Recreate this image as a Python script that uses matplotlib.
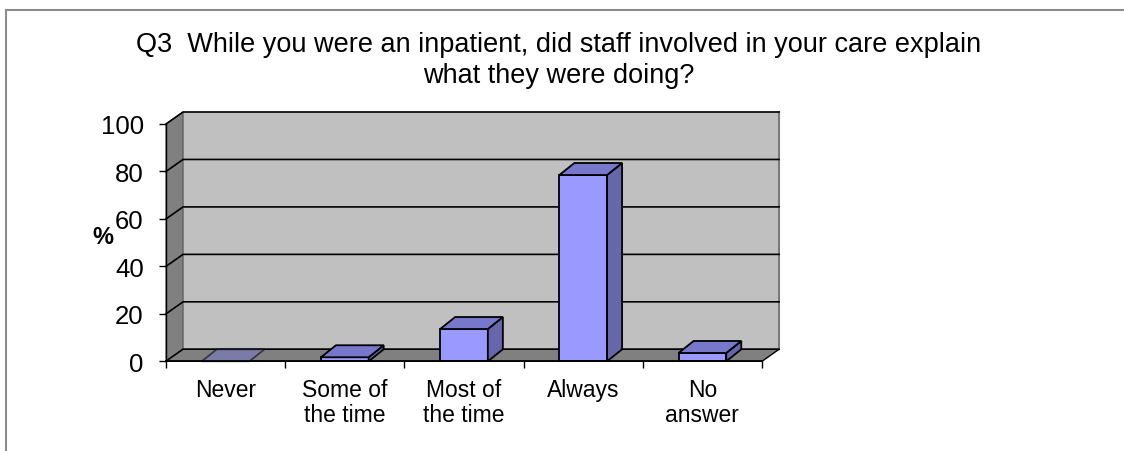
import matplotlib
matplotlib.use('Agg')
import matplotlib.pyplot as plt
from matplotlib.patches import Polygon, Rectangle
import numpy as np

plt.rcParams['font.family'] = ['Liberation Sans', 'DejaVu Sans']

categories = ['Never', 'Some of\nthe time', 'Most of\nthe time', 'Always', 'No\nanswer']
values = [0, 1.7, 13.6, 78.5, 3.5]
y_ticks = [0, 20, 40, 60, 80, 100]
title = 'Q3  While you were an inpatient, did staff involved in your care explain\nwhat they were doing?'

# colours of the old spreadsheet 3-D column style
FRONT = '#9999ff'
TOP = '#7777cc'
SIDE = '#6666aa'
WALL = '#c0c0c0'
FLOOR = '#808080'

fig = plt.figure(figsize=(11.24, 4.52), dpi=100)
# axes box is the front plane of the 3-D plot
ax = fig.add_axes([166 / 1124, 1 - 362.3 / 452, 596 / 1124, 237.3 / 452])
n = len(categories)
ax.set_xlim(-0.5, n - 0.5)
ax.set_ylim(0, 100)
ax.patch.set_visible(False)

# depth offsets in data units (walls and bars)
wdx, wdy = 0.143, 5.06
bdx, bdy = 0.126, 5.06
bar_w = 0.4
left, right = -0.5, n - 0.5

def poly(pts, fc, ec='black', lw=1.0, z=1, alpha=1.0):
    ax.add_patch(Polygon(pts, closed=True, facecolor=fc, edgecolor=ec,
                         linewidth=lw, zorder=z, clip_on=False, alpha=alpha))

# back wall, side wall, floor
poly([(left + wdx, wdy), (right + wdx, wdy), (right + wdx, 100 + wdy), (left + wdx, 100 + wdy)],
     WALL, ec='none', z=0.5)
ax.plot([right + wdx, right + wdx], [wdy, 100 + wdy], color='#7a7a7a', lw=1.5,
        zorder=0.6, clip_on=False)
poly([(left, 0), (left, 100), (left + wdx, 100 + wdy), (left + wdx, wdy)],
     FLOOR, ec='#555555', lw=0.8, z=0.5)

for yv in y_ticks:
    ax.plot([left, left + wdx, right + wdx], [yv, yv + wdy, yv + wdy],
            color='black', lw=1.2, zorder=0.8, clip_on=False)

poly([(left, 0), (right, 0), (right + wdx, wdy), (left + wdx, wdy)],
     FLOOR, ec='black', lw=1.0, z=0.9)

# 3-D columns
for i, v in enumerate(values):
    x0, x1 = i - bar_w / 2, i + bar_w / 2
    a = 0.55 if v == 0 else 1.0
    if v > 0:
        poly([(x0, 0), (x1, 0), (x1, v), (x0, v)], FRONT, lw=1.3, z=2)
        poly([(x1, 0), (x1 + bdx, bdy), (x1 + bdx, v + bdy), (x1, v)], SIDE, lw=1.3, z=2)
    poly([(x0, v), (x1, v), (x1 + bdx, v + bdy), (x0 + bdx, v + bdy)], TOP, lw=1.3, z=2, alpha=a)

for s in ['top', 'right']:
    ax.spines[s].set_visible(False)
ax.spines['left'].set_linewidth(1.0)
ax.spines['bottom'].set_linewidth(1.2)
ax.spines['left'].set_zorder(3)
ax.spines['bottom'].set_zorder(3)

ax.set_yticks(y_ticks)
ax.tick_params(axis='y', length=5, width=1, pad=11, labelsize=18.5)
ax.set_xticks(np.arange(n + 1) - 0.5)
ax.set_xticklabels([])
ax.set_xticks(np.arange(n), minor=True)
ax.set_xticklabels(categories, minor=True, fontsize=16.5, linespacing=1.12)
ax.tick_params(axis='x', which='major', length=5, width=1)
ax.tick_params(axis='x', which='minor', length=0, pad=12)

ax.set_ylabel('%', rotation=0, fontsize=17, fontweight='bold', va='center')
ax.yaxis.set_label_coords(-0.106, 0.525)

fig.text(559 / 1124, 1 - 32 / 452, title, ha='center', va='top', fontsize=19.5,
         linespacing=1.25)

# chart area border
fig.add_artist(Rectangle((6 / 1124, -0.1), 1.2, 1.1 - 11 / 452, transform=fig.transFigure,
                         facecolor='none', edgecolor='#8c8c8c', linewidth=1.5))

fig.savefig('out.png', dpi=100)
